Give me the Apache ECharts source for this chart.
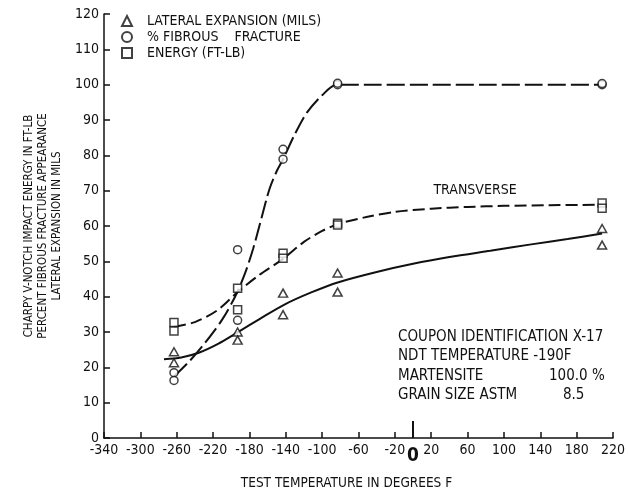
<!DOCTYPE html>
<html>
<head>
<meta charset="utf-8">
<script src="https://cdn.jsdelivr.net/npm/echarts@6/dist/echarts.min.js"></script>
<style>
html,body{margin:0;padding:0;background:#fff;}
#chart{width:629px;height:495px;}
</style>
</head>
<body>
<div id="chart"></div>
<script>
const FONT = "'Liberation Sans Narrow', 'DejaVu Sans Condensed', 'Roboto Condensed', sans-serif";
const INK = '#111';

// measured points (temperature F, value)
const lateralX = [-263, -263, -193, -193, -143, -143, -83, -83, 208, 208];
const lateralY = [24.4, 21.3, 30.0, 27.7, 41.0, 34.9, 46.7, 41.3, 59.3, 54.6];
const fibrousX = [-263, -263, -193, -193, -143, -143, -83, -83, 208, 208];
const fibrousY = [18.5, 16.3, 53.3, 33.3, 81.7, 78.9, 100.0, 100.4, 100.0, 100.3];
const energyX  = [-263, -263, -193, -193, -143, -143, -83, -83, 208, 208];
const energyY  = [32.7, 30.3, 42.4, 36.3, 52.3, 50.9, 60.8, 60.3, 66.5, 65.0];

// hand-drawn fitted curves
const lateralCurveX = [-274, -255, -235, -214, -193, -168, -142, -112, -82, -40, 0, 40, 85, 130, 170, 208];
const lateralCurveY = [22.3, 22.8, 24.2, 26.7, 29.9, 33.8, 37.7, 41.2, 44.1, 47.0, 49.3, 51.2, 53.0, 54.8, 56.3, 57.9];
const energyCurveX  = [-263, -240, -215, -193, -170, -143, -120, -100, -82, -50, -20, 20, 60, 100, 150, 208];
const energyCurveY  = [31.5, 32.8, 36.2, 41.3, 46.0, 50.7, 55.5, 58.6, 60.6, 62.6, 64.0, 64.9, 65.4, 65.7, 65.9, 66.0];
const fibrousCurveX = [-263, -245, -228, -210, -195, -185, -176, -167, -158, -150, -143, -130, -117, -100, -84, -40, 20, 80, 140, 208];
const fibrousCurveY = [17.4, 22.0, 27.2, 33.5, 40.4, 46.5, 53.5, 62.0, 70.4, 75.5, 78.9, 86.0, 92.0, 97.0, 100.0, 100.0, 100.0, 100.0, 100.0, 100.0];

// axes
const xMin = -340, xMax = 220, xStep = 40;
const yMin = 0, yMax = 120, yStep = 10;
const zeroMark = [0, 4.8];

const legendNames = ['LATERAL EXPANSION (MILS)', '% FIBROUS    FRACTURE', 'ENERGY (FT-LB)'];
const yTitle = 'CHARPY V-NOTCH IMPACT ENERGY IN FT-LB\nPERCENT FIBROUS FRACTURE APPEARANCE\nLATERAL EXPANSION IN MILS';
const xTitle = 'TEST TEMPERATURE IN DEGREES F';
const notes = ['COUPON IDENTIFICATION X-17', 'NDT TEMPERATURE -190F', 'MARTENSITE', 'GRAIN SIZE ASTM'];
const noteValues = ['100.0 %', '8.5'];
const curveLabel = 'TRANSVERSE';

const zip = (xs, ys) => xs.map((x, i) => [x, ys[i]]);

const pointStyle = { color: '#fff', borderColor: INK, borderWidth: 1.5 };

const chart = echarts.init(document.getElementById('chart'), null, { renderer: 'canvas' });
chart.setOption({
  backgroundColor: '#fff',
  animation: false,
  textStyle: { fontFamily: FONT, color: INK },
  grid: { left: 104, right: 16, top: 14, bottom: 55, containLabel: false },
  legend: {
    orient: 'vertical', left: 116, top: 9, itemWidth: 10, itemHeight: 10, itemGap: 2,
    data: [
      { name: legendNames[0], icon: 'triangle' },
      { name: legendNames[1], icon: 'circle' },
      { name: legendNames[2], icon: 'rect' }
    ],
    textStyle: { fontFamily: FONT, fontSize: 14, color: INK, lineHeight: 14, padding: [0, 0, 0, 10] }
  },
  xAxis: {
    type: 'value', min: xMin, max: xMax, interval: xStep,
    splitLine: { show: false },
    axisLine: { onZero: false, lineStyle: { color: INK, width: 1.5 } },
    axisTick: { inside: true, length: 6, lineStyle: { color: INK, width: 1.5 } },
    axisLabel: { color: INK, fontFamily: FONT, fontSize: 14, margin: 5 },
    name: xTitle, nameLocation: 'middle', nameGap: 38,
    nameTextStyle: { color: INK, fontFamily: FONT, fontSize: 13.5, padding: [0, 24, 0, 0] }
  },
  yAxis: {
    type: 'value', min: yMin, max: yMax, interval: yStep,
    splitLine: { show: false },
    axisLine: { show: true, onZero: false, lineStyle: { color: INK, width: 1.5 } },
    axisTick: { show: true, inside: true, length: 6, lineStyle: { color: INK, width: 1.5 } },
    axisLabel: { color: INK, fontFamily: FONT, fontSize: 14, margin: 5 },
    name: yTitle, nameLocation: 'middle', nameRotate: 90, nameGap: 40, nameMoveOverlap: false,
    nameTextStyle: { color: INK, fontFamily: FONT, fontSize: 11.5, lineHeight: 14, align: 'center' }
  },
  graphic: [
    { type: 'text', x: 475, y: 190, style: { text: curveLabel, font: '14px ' + FONT, fill: INK, align: 'center', verticalAlign: 'middle' } },
    { type: 'text', x: 398, y: 337, style: { text: notes[0], font: '15px ' + FONT, fill: INK, verticalAlign: 'middle' } },
    { type: 'text', x: 398, y: 356, style: { text: notes[1], font: '15px ' + FONT, fill: INK, verticalAlign: 'middle' } },
    { type: 'text', x: 398, y: 376, style: { text: notes[2], font: '15px ' + FONT, fill: INK, verticalAlign: 'middle' } },
    { type: 'text', x: 549, y: 376, style: { text: noteValues[0], font: '15px ' + FONT, fill: INK, verticalAlign: 'middle' } },
    { type: 'text', x: 398, y: 395, style: { text: notes[3], font: '15px ' + FONT, fill: INK, verticalAlign: 'middle' } },
    { type: 'text', x: 563, y: 395, style: { text: noteValues[1], font: '15px ' + FONT, fill: INK, verticalAlign: 'middle' } }
  ],
  series: [
    {
      name: 'lateralCurve', type: 'line', data: zip(lateralCurveX, lateralCurveY),
      smooth: 0.3, symbol: 'none', z: 2,
      lineStyle: { color: INK, width: 2, type: 'solid' },
      markLine: {
        silent: true, symbol: ['none', 'none'], animation: false,
        lineStyle: { color: INK, width: 2, type: 'solid' },
        label: { show: true, position: 'start', formatter: '0', color: INK, fontFamily: FONT, fontSize: 19, fontWeight: 'bold', distance: 9 },
        data: [[{ coord: [zeroMark[0], 0] }, { coord: [zeroMark[0], zeroMark[1]] }]]
      }
    },
    {
      name: 'energyCurve', type: 'line', data: zip(energyCurveX, energyCurveY),
      smooth: 0.3, symbol: 'none', z: 2,
      lineStyle: { color: INK, width: 2, type: [12, 5] }
    },
    {
      name: 'fibrousCurve', type: 'line', data: zip(fibrousCurveX, fibrousCurveY),
      smooth: 0.3, symbol: 'none', z: 2,
      lineStyle: { color: INK, width: 2, type: [18, 5] }
    },
    {
      name: legendNames[0], type: 'scatter', data: zip(lateralX, lateralY),
      symbol: 'triangle', symbolSize: [9, 8], itemStyle: pointStyle, z: 5
    },
    {
      name: legendNames[1], type: 'scatter', data: zip(fibrousX, fibrousY),
      symbol: 'circle', symbolSize: 8, itemStyle: pointStyle, z: 5
    },
    {
      name: legendNames[2], type: 'scatter', data: zip(energyX, energyY),
      symbol: 'rect', symbolSize: 8, itemStyle: pointStyle, z: 5
    }
  ]
});
</script>
</body>
</html>
